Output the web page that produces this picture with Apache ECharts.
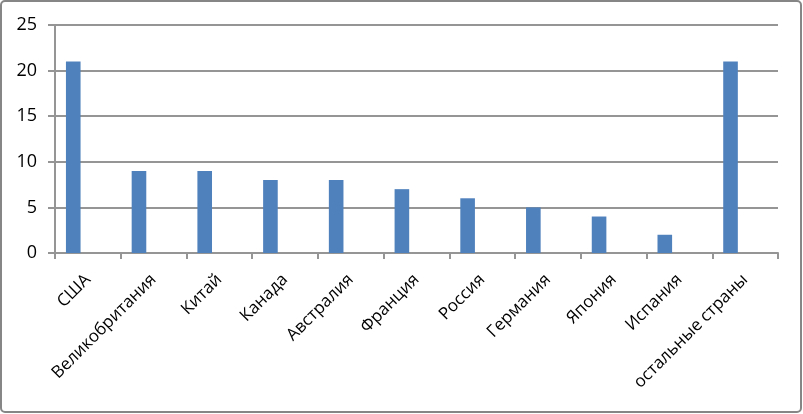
<!DOCTYPE html>
<html>
<head>
<meta charset="utf-8">
<script src="https://cdn.jsdelivr.net/npm/echarts@6/dist/echarts.min.js"></script>
<style>
  html, body { margin: 0; padding: 0; background: #fff; }
  #chart { width: 803px; height: 414px; }
</style>
</head>
<body>
<div id="chart"></div>
<script>
var countries = ['США', 'Великобритания', 'Китай', 'Канада', 'Австралия', 'Франция',
  'Россия', 'Германия', 'Япония', 'Испания', 'остальные страны'];
var shares = [21, 9, 9, 8, 8, 7, 6, 5, 4, 2, 21];
// Excel left room for two more (empty) series in each category
var emptySeries = [null, null, null, null, null, null, null, null, null, null, null];
var yTicks = [0, 5, 10, 15, 20, 25];

var font = '"Open Sans", "Noto Sans", sans-serif';
var gray = '#959595';

var chart = echarts.init(document.getElementById('chart'));
chart.setOption({
  animation: false,
  graphic: [{
    type: 'rect',
    shape: { x: 1, y: 1, width: 800, height: 411, r: 4 },
    style: { fill: 'none', stroke: '#868686', lineWidth: 2 },
    silent: true
  }],
  grid: { left: 55, right: 25, top: 25, bottom: 161 },
  xAxis: {
    type: 'category',
    data: countries,
    axisLine: { lineStyle: { color: gray, width: 2 } },
    axisTick: { show: true, length: 6, lineStyle: { color: gray, width: 2 } },
    axisLabel: {
      interval: 0,
      rotate: 45,
      margin: 24,
      color: '#000',
      fontSize: 17,
      fontFamily: font
    }
  },
  yAxis: {
    type: 'value',
    min: yTicks[0],
    max: yTicks[yTicks.length - 1],
    interval: 5,
    axisLine: { show: true, lineStyle: { color: gray, width: 2 } },
    axisTick: { show: true, inside: false, length: 7, lineStyle: { color: gray, width: 2 } },
    splitLine: { lineStyle: { color: gray, width: 2 } },
    axisLabel: { margin: 18, color: '#000', fontSize: 18, fontFamily: font }
  },
  series: [
    {
      type: 'bar',
      data: shares,
      barGap: '0%',
      barCategoryGap: '33.3%',
      itemStyle: { color: '#4F81BD' }
    },
    { type: 'bar', data: emptySeries },
    { type: 'bar', data: emptySeries }
  ]
});
</script>
</body>
</html>
